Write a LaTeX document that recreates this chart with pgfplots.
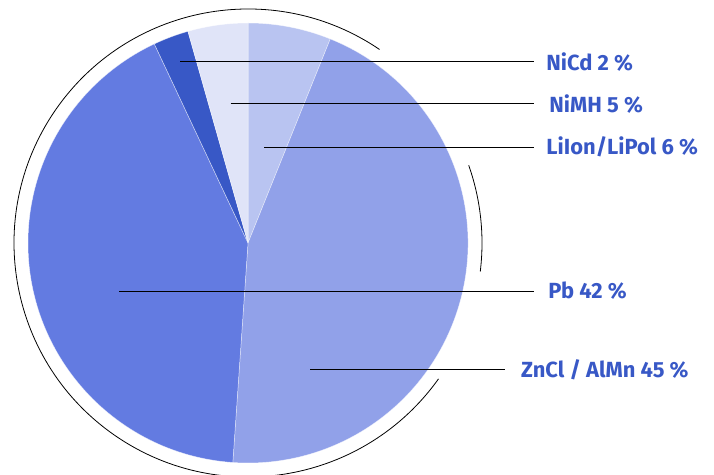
\documentclass[border=0pt]{standalone}
\usepackage{pgfplots}
\pgfplotsset{compat=1.18}
\usepackage{pgfplotstable}
\usepackage{fontspec}
\setmainfont{Fira Sans}
\definecolor{cLi}{HTML}{B9C4F1}
\definecolor{cZn}{HTML}{91A1E9}
\definecolor{cPb}{HTML}{637BE1}
\definecolor{cNiCd}{HTML}{3858C6}
\definecolor{cNiMH}{HTML}{E0E4F8}
\definecolor{ctext}{HTML}{3858C6}
\tikzset{lab/.style={font=\fontsize{22}{26}\selectfont\bfseries, text=ctext, anchor=west, inner sep=0pt}}
% slices clockwise from 12 o'clock, value in percent
\pgfplotstableread{
name value color
LiIon 6.1 cLi
ZnCl 45.0 cZn
Pb 41.9 cPb
NiCd 2.6 cNiCd
NiMH 4.4 cNiMH
}\piedata
\begin{document}
\begin{tikzpicture}
\begin{axis}[
  scale only axis, width=714bp, height=475bp,
  xmin=0, xmax=714, ymin=0, ymax=475,
  hide axis, clip=false,
]
\def\cx{248}\def\cy{232}\def\R{220}
\gdef\startang{90}
\pgfplotsforeachungrouped \i in {0,...,4}{%
  \pgfplotstablegetelem{\i}{value}\of\piedata \let\v\pgfplotsretval
  \pgfplotstablegetelem{\i}{color}\of\piedata \let\c\pgfplotsretval
  \pgfmathsetmacro\endang{\startang-3.6*\v}%
  \pgfmathsetmacro\sx{\cx+\R*cos(\startang)}%
  \pgfmathsetmacro\sy{\cy+\R*sin(\startang)}%
  \edef\tmp{\noexpand\fill[fill=\c, draw=white, draw opacity=0.6, line width=0.5pt, line join=round]
    (axis cs:\cx,\cy) -- (axis cs:\sx,\sy) arc[start angle=\startang, end angle=\endang, radius=\R bp] -- cycle;}%
  \tmp
  \global\let\startang\endang
}
% decorative outer ring
\draw[black, line width=0.8pt] (axis cs:{248+234*cos(55.8)},{232+234*sin(55.8)}) arc[start angle=55.8, end angle=324.5, radius=234bp];
\draw[black, line width=0.8pt] (axis cs:{248+234*cos(-7)},{232+234*sin(-7)}) arc[start angle=-7, end angle=19.4, radius=234bp];
% leader lines and labels
\addplot[black, line width=0.9pt] coordinates {(180,413.3) (534,413.3)} node[pos=1, lab, xshift=12bp]{NiCd 2 \%};
\addplot[black, line width=0.9pt] coordinates {(230.7,371.3) (534,371.3)} node[pos=1, lab, xshift=15bp]{NiMH 5 \%};
\addplot[black, line width=0.9pt] coordinates {(264.3,328) (534,328)} node[pos=1, lab, xshift=12bp]{LiIon/LiPol 6 \%};
\addplot[black, line width=0.9pt] coordinates {(119,184) (534,184)} node[pos=1, lab, xshift=14bp]{Pb 42 \%};
\addplot[black, line width=0.9pt] coordinates {(310,105.3) (504.7,105.3)} node[pos=1, lab, xshift=16bp]{ZnCl / AlMn 45 \%};
\end{axis}
\pgfresetboundingbox
\path (current axis.south west) rectangle (current axis.north east);
\end{tikzpicture}
\end{document}
